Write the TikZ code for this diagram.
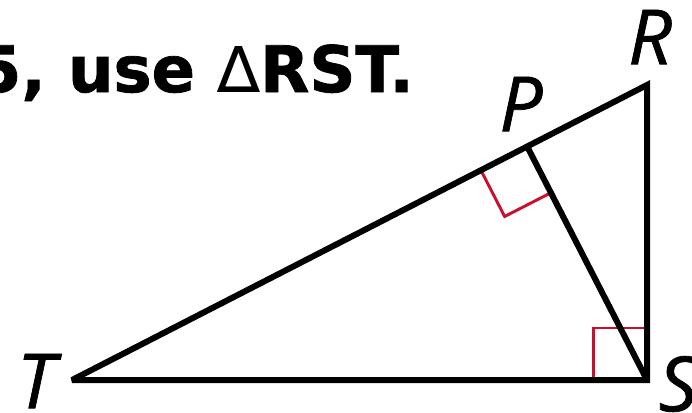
\documentclass[tikz,border=0pt]{standalone}
\usepackage{fontspec}
\usetikzlibrary{calc}
\newfontfamily\headfont{DejaVu Sans}[BoldFeatures={FakeBold=1.2}]
\newfontfamily\vertfont{Open Sans}[ItalicFeatures={FakeBold=1}]
\definecolor{markred}{RGB}{200,16,46}
\begin{document}
\begin{tikzpicture}[x=0.75pt, y=-0.75pt,
    side/.style={line width=4.5pt, line join=miter, miter limit=3},
    rmark/.style={draw=markred, line width=2.2pt},
    vlbl/.style={font=\fontsize{57}{57}\selectfont\vertfont\itshape, inner sep=0pt},
    head/.style={font=\fontsize{48}{48}\selectfont\headfont\bfseries, inner sep=0pt, anchor=base east},
  ]
    %% frame
    \useasboundingbox (0,0) rectangle (692,412);
    \clip (0,0) rectangle (692,412);

    %% heading (cut at the left edge)
    \node[head] (title) at (414,92) {5, use {\mdseries ∆}RST.};

    %% vertices
    \coordinate (T) at (72,380);
    \coordinate (S) at (647,380);
    \coordinate (R) at (647,85);
    \coordinate (P) at ($(T)!(S)!(R)$);

    %% right-angle marks
    \coordinate (pa) at ($(P)!39pt!(T)$);
    \coordinate (pb) at ($(P)!39pt!(S)$);
    \coordinate (pc) at ($(pa)+(pb)-(P)$);
    \draw[rmark] (pa) -- (pc) -- (pb);

    \coordinate (sa) at ($(S)!40pt!(T)$);
    \coordinate (sb) at ($(S)!39pt!(R)$);
    \coordinate (sc) at ($(sa)+(sb)-(S)$);
    \draw[rmark] (sa) -- (sc) -- (sb);

    %% triangle and altitude
    \draw[side] (T) -- (S) -- (R) -- cycle;
    \draw[side] (P) -- (S);

    %% vertex labels
    \node[vlbl] (lR) at (650,37) {R};
    \node[vlbl] (lP) at (521,104) {P};
    \node[vlbl] (lT) at (36,381) {T};
    \node[vlbl] (lS) at (678,384) {S};
\end{tikzpicture}
\end{document}
